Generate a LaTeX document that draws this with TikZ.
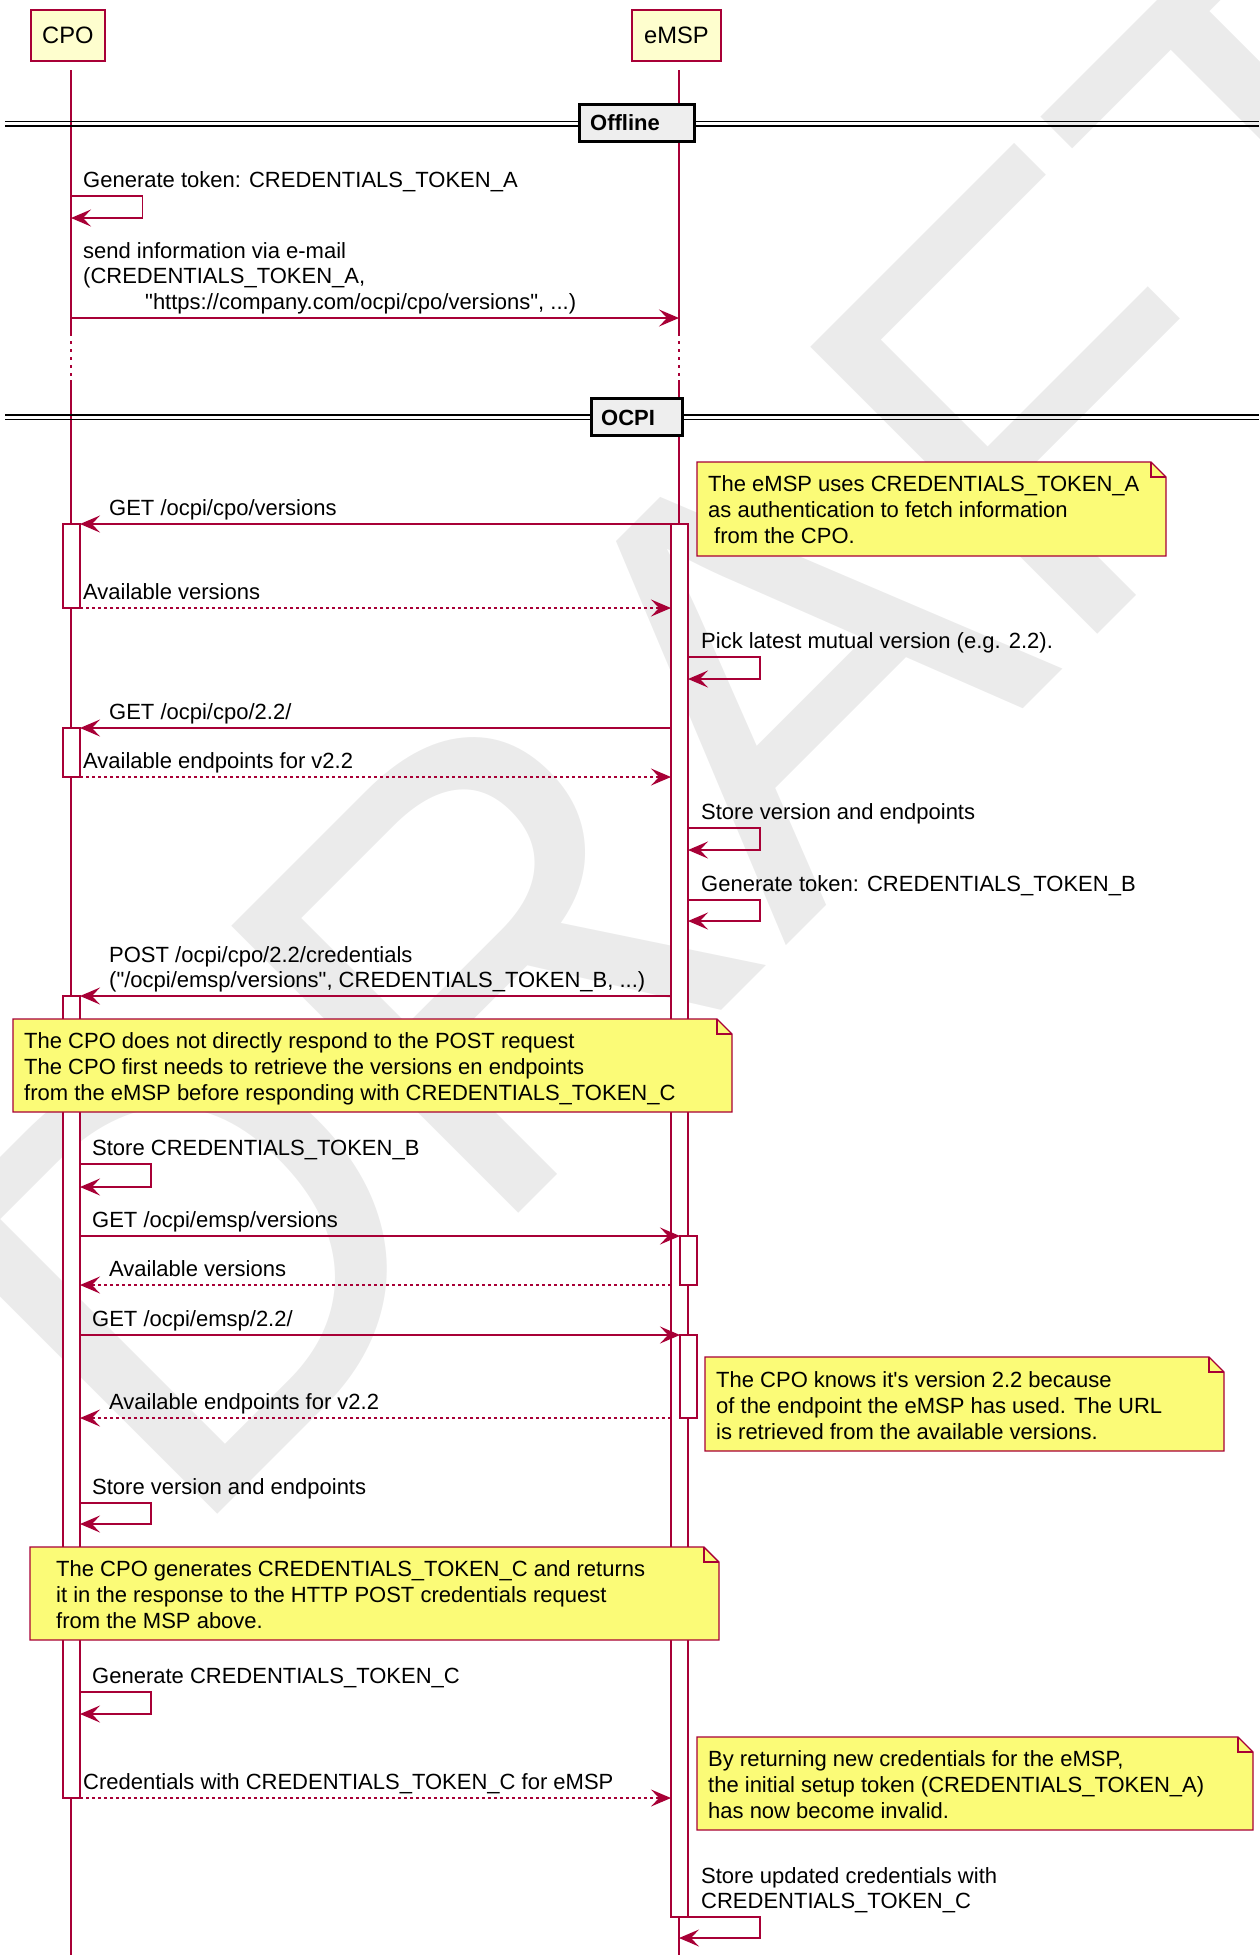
\documentclass[tikz,border=0pt]{standalone}
\usepackage{fontspec}
\setmainfont{Liberation Sans}[Ligatures=TeXOff]
\usetikzlibrary{arrows.meta}

\definecolor{umlred}{HTML}{A80036}
\definecolor{partfill}{HTML}{FEFECE}
\definecolor{notefill}{HTML}{FBFB77}
\definecolor{divfill}{HTML}{EEEEEE}
\definecolor{wmark}{HTML}{EBEBEB}

\newcommand\msgfont{\fontsize{22}{26}\selectfont}
\newcommand\partfont{\fontsize{23.7}{28}\selectfont}
\newcommand\divfont{\fontsize{22}{26}\selectfont\bfseries}
\newcommand\markfont{\fontsize{590}{590}\selectfont}

\tikzset{
  lifeline/.style={draw=umlred, line width=1.4pt},
  delayline/.style={lifeline, dash pattern=on 2.5pt off 5.5pt},
  msg/.style={draw=umlred, line width=1.4pt, -{Stealth[length=20pt,width=17pt,inset=8pt]}},
  reply/.style={msg, dash pattern=on 3pt off 3pt},
  lbl/.style={anchor=base west, inner sep=0pt, font=\msgfont},
  actbar/.style={draw=umlred, fill=white, line width=1.4pt},
  notebg/.style={draw=umlred, fill=notefill, line width=1.4pt, line join=miter},
  part/.style={draw=umlred, fill=partfill, line width=2pt, font=\partfont, inner sep=0pt, minimum height=51pt},
  divbox/.style={draw=black, fill=divfill, line width=3pt},
  divline/.style={draw=black, line width=1.3pt},
  divlbl/.style={anchor=base west, inner sep=0pt, font=\divfont},
}

% one text line: name, x, baseline, text
\newcommand\lbl[4]{\node[lbl] (#1) at (#2,#3) {#4};}
% several text lines: name, x, first baseline, line step, {{line},{line},...}
\newcommand\lbls[5]{\foreach \t [count=\i from 0] in {#5}{\node[lbl] (#1-\i) at (#2,{#3+#4*\i}) {\t};}}
% activation bar: name, x1, y1, x2, y2
\newcommand\actbox[5]{%
  \coordinate (#1-nw) at (#2,#3); \coordinate (#1-se) at (#4,#5);
  \draw[actbar] (#1-nw) rectangle (#1-se);}
% note with folded corner: name, x1, y1, x2, y2
\newcommand\notebox[5]{%
  \coordinate (#1-nw) at (#2,#3); \coordinate (#1-se) at (#4,#5);
  \coordinate (#1-f1) at ({#4-15},#3); \coordinate (#1-f2) at (#4,{#3+15});
  \coordinate (#1-f3) at ({#4-15},{#3+15});
  \draw[notebg] (#1-nw) -- (#1-f1) -- (#1-f2) -- (#1-se) -- (#1-se -| #1-nw) -- cycle;
  \draw[notebg, fill=none] (#1-f1) -- (#1-f3) -- (#1-f2);}
% message to self: name, x start, y top, y bottom, x right
\newcommand\selfmsg[5]{%
  \coordinate (#1-a) at (#2,#3); \coordinate (#1-b) at (#2,#4);
  \coordinate (#1-c) at (#5,#3); \coordinate (#1-d) at (#5,#4);
  \draw[msg] (#1-a) -- (#1-c) -- (#1-d) -- (#1-b);}
% straight message: name, style, x from, x to, y
\newcommand\straightmsg[5]{%
  \coordinate (#1-a) at (#3,#5); \coordinate (#1-b) at (#4,#5);
  \draw[#2] (#1-a) -- (#1-b);}

\begin{document}
\begin{tikzpicture}[x=1pt, y=-1pt]
\useasboundingbox (0,0) rectangle (1259,1955);

% watermark
\begin{scope}
  \clip (0,0) rectangle (1259,1955);
  \node[rotate=45, text=wmark, font=\markfont, inner sep=0pt] (mark) at (735,710) {DRAFT};
\end{scope}

% lifelines
\coordinate (cpoA) at (71,70);   \coordinate (cpoB) at (71,333);
\coordinate (cpoC) at (71,380);  \coordinate (cpoZ) at (71,1955);
\coordinate (emspA) at (679,70); \coordinate (emspB) at (679,333);
\coordinate (emspC) at (679,380);\coordinate (emspZ) at (679,1955);
\draw[lifeline] (cpoA) -- (cpoB);   \draw[delayline] (cpoB) -- (cpoC);   \draw[lifeline] (cpoC) -- (cpoZ);
\draw[lifeline] (emspA) -- (emspB); \draw[delayline] (emspB) -- (emspC); \draw[lifeline] (emspC) -- (emspZ);

% participants
\node[part, minimum width=73.7pt] (cpo) at (67.9,35.5) {CPO};
\node[part, minimum width=89pt] (emsp) at (676.5,35.5) {eMSP};

% divider: Offline
\coordinate (offL1) at (5,121.7);  \coordinate (offR1) at (1259,121.7);
\coordinate (offL2) at (5,126.1);  \coordinate (offR2) at (1259,126.1);
\draw[divline] (offL1) -- (offR1); \draw[divline] (offL2) -- (offR2);
\coordinate (offB1) at (579.5,104.2); \coordinate (offB2) at (694.5,141.8);
\draw[divbox] (offB1) rectangle (offB2);
\node[divlbl] (offline) at (590,130) {Offline};

% offline exchange
\selfmsg{genA}{71}{196}{218}{142.5}
\lbl{genAt}{83}{187}{Generate token: CREDENTIALS\_TOKEN\_A}
\straightmsg{mail}{msg}{71}{679}{318}
\lbls{mailt}{83}{258}{25.5}{{send information via e-mail},{(CREDENTIALS\_TOKEN\_A,}}
\lbl{mailt-2}{145}{309}{"https://company.com/ocpi/cpo/versions", ...)}

% divider: OCPI
\coordinate (ocL1) at (5,415);    \coordinate (ocR1) at (1259,415);
\coordinate (ocL2) at (5,419.3);  \coordinate (ocR2) at (1259,419.3);
\draw[divline] (ocL1) -- (ocR1); \draw[divline] (ocL2) -- (ocR2);
\coordinate (ocB1) at (591.5,398.5); \coordinate (ocB2) at (682,435.5);
\draw[divbox] (ocB1) rectangle (ocB2);
\node[divlbl] (ocpi) at (601,425.5) {OCPI};

% activation bars
\actbox{eb}{671}{524}{688}{1917}
\actbox{cb1}{63}{524}{80}{608}
\actbox{cb2}{63}{728}{80}{777}
\actbox{cb3}{63}{996}{80}{1798}
\actbox{eb1}{680}{1236}{697}{1285}
\actbox{eb2}{680}{1335}{697}{1418}

% version discovery by the eMSP
\straightmsg{getv}{msg}{671}{80}{524}
\lbl{getvt}{109}{515}{GET /ocpi/cpo/versions}
\straightmsg{avv}{reply}{80}{671}{608}
\lbl{avvt}{83}{599}{Available versions}
\selfmsg{pick}{688}{657}{679}{760}
\lbl{pickt}{701}{648}{Pick latest mutual version (e.g. 2.2).}
\straightmsg{get22}{msg}{671}{80}{728}
\lbl{get22t}{109}{719}{GET /ocpi/cpo/2.2/}
\straightmsg{ave}{reply}{80}{671}{777}
\lbl{avet}{83}{768}{Available endpoints for v2.2}
\selfmsg{stE}{688}{828}{850}{760}
\lbl{stEt}{701}{819}{Store version and endpoints}
\selfmsg{genB}{688}{900}{921}{760}
\lbl{genBt}{701}{891}{Generate token: CREDENTIALS\_TOKEN\_B}
\straightmsg{post}{msg}{671}{80}{996}
\lbl{postt-0}{109}{962}{POST /ocpi/cpo/2.2/credentials}
\lbl{postt-1}{109}{987}{("/ocpi/emsp/versions", CREDENTIALS\_TOKEN\_B, ...)}

% version discovery by the CPO
\selfmsg{stB}{80}{1164}{1187}{151}
\lbl{stBt}{92}{1155}{Store CREDENTIALS\_TOKEN\_B}
\straightmsg{getev}{msg}{80}{680}{1236}
\lbl{getevt}{92}{1227}{GET /ocpi/emsp/versions}
\straightmsg{avv2}{reply}{671}{80}{1285}
\lbl{avv2t}{109}{1276}{Available versions}
\straightmsg{gete22}{msg}{80}{680}{1335}
\lbl{gete22t}{92}{1326}{GET /ocpi/emsp/2.2/}
\straightmsg{ave2}{reply}{671}{80}{1418}
\lbl{ave2t}{109}{1409}{Available endpoints for v2.2}
\selfmsg{stC}{80}{1503}{1524}{151}
\lbl{stCt}{92}{1494}{Store version and endpoints}
\selfmsg{genC}{80}{1692}{1714}{151}
\lbl{genCt}{92}{1683}{Generate CREDENTIALS\_TOKEN\_C}
\straightmsg{cred}{reply}{80}{671}{1798}
\lbl{credt}{83}{1789}{Credentials with CREDENTIALS\_TOKEN\_C for eMSP}
\selfmsg{upd}{679}{1917}{1938}{760}
\lbls{updt}{701}{1883}{25.5}{{Store updated credentials with},{CREDENTIALS\_TOKEN\_C}}

% notes
\notebox{n1}{697}{462}{1166}{556}
\lbls{n1t}{708}{491}{26}{{The eMSP uses CREDENTIALS\_TOKEN\_A},{as authentication to fetch information}}
\lbl{n1t-2}{714}{543}{from the CPO.}

\notebox{n2}{13}{1019}{732}{1112}
\lbls{n2t}{24}{1048}{26}{{The CPO does not directly respond to the POST request},{The CPO first needs to retrieve the versions en endpoints},{from the eMSP before responding with CREDENTIALS\_TOKEN\_C}}

\notebox{n3}{705}{1357}{1224}{1451}
\lbls{n3t}{716}{1387}{26}{{The CPO knows it's version 2.2 because},{of the endpoint the eMSP has used. The URL},{is retrieved from the available versions.}}

\notebox{n4}{30}{1547}{719}{1640}
\lbls{n4t}{56}{1576}{26}{{The CPO generates CREDENTIALS\_TOKEN\_C and returns},{it in the response to the HTTP POST credentials request},{from the MSP above.}}

\notebox{n5}{697}{1737}{1253}{1830}
\lbls{n5t}{708}{1766}{26}{{By returning new credentials for the eMSP,},{the initial setup token (CREDENTIALS\_TOKEN\_A)},{has now become invalid.}}

\end{tikzpicture}
\end{document}
